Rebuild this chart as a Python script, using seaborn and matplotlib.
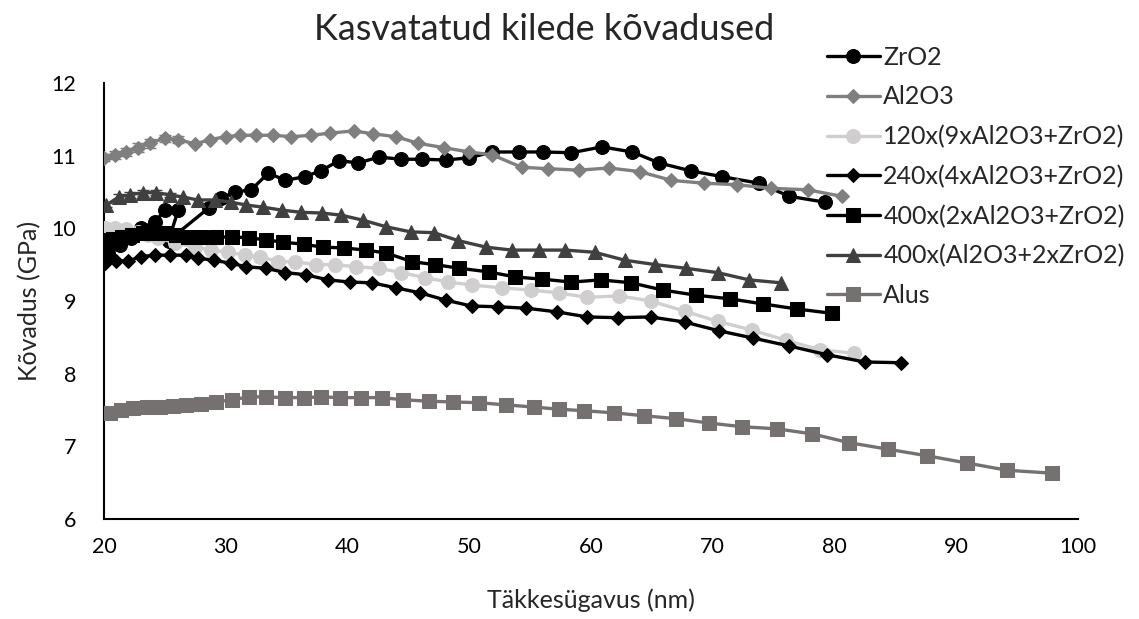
import numpy as np
import pandas as pd
import matplotlib
matplotlib.use("Agg")
import matplotlib.pyplot as plt
import seaborn as sns

# ---- data ----
zro2_x = [20.3, 21.3, 22.2, 23.0, 24.2, 25.0, 26.1, 25.3, 28.6, 29.6, 30.8, 32.1, 33.5, 34.9, 36.5, 37.8, 39.3, 40.9,
          42.6, 44.4, 46.1, 48.1, 50.0, 51.9, 54.1, 56.1, 58.4, 60.9, 63.4, 65.6, 68.2, 70.8, 73.8, 76.3, 79.2]
zro2_y = [9.66, 9.77, 9.87, 10.00, 10.09, 10.25, 10.25, 9.83, 10.28, 10.42, 10.50, 10.53, 10.76, 10.66, 10.71, 10.79,
          10.93, 10.90, 10.98, 10.95, 10.95, 10.94, 10.97, 11.05, 11.05, 11.05, 11.04, 11.12, 11.05, 10.90, 10.79,
          10.71, 10.62, 10.44, 10.36]

al2o3_x = [20.0, 20.9, 21.8, 22.8, 23.8, 25.0, 26.1, 27.5, 28.7, 30.0, 31.2, 32.5, 33.9, 35.4, 37.0, 38.6, 40.5, 42.1,
           44.0, 45.8, 47.9, 50.0, 51.9, 54.3, 56.5, 59.0, 61.5, 64.0, 66.6, 69.3, 72.0, 74.8, 77.8, 80.6]
al2o3_y = [10.97, 11.01, 11.05, 11.11, 11.17, 11.24, 11.22, 11.16, 11.22, 11.26, 11.28, 11.28, 11.28, 11.26, 11.28,
           11.31, 11.34, 11.30, 11.26, 11.17, 11.11, 11.05, 11.01, 10.84, 10.82, 10.80, 10.83, 10.78, 10.66, 10.62,
           10.60, 10.55, 10.53, 10.44]
al2o3_err = [0.05, 0.05, 0.06, 0.06, 0.06, 0.05, 0.05]

s120_x = [20.1, 20.9, 21.8, 22.8, 23.6, 24.4, 25.8, 27.5, 28.8, 30.2, 31.6, 32.8, 34.3, 35.7, 37.4, 39.0, 40.7, 42.6,
          44.4, 46.4, 48.3, 50.2, 52.7, 55.1, 57.4, 59.7, 62.3, 64.9, 67.7, 70.4, 73.2, 76.0, 78.8, 81.6]
s120_y = [10.00, 10.00, 9.99, 9.95, 9.91, 9.87, 9.80, 9.74, 9.70, 9.67, 9.63, 9.61, 9.54, 9.54, 9.50, 9.50, 9.47, 9.45,
          9.39, 9.32, 9.26, 9.22, 9.18, 9.15, 9.11, 9.05, 9.07, 9.00, 8.86, 8.72, 8.60, 8.46, 8.33, 8.28]

s240_x = [20.1, 21.0, 22.0, 23.0, 24.2, 25.4, 26.7, 27.7, 29.0, 30.4, 31.7, 33.3, 34.9, 36.6, 38.4, 40.2, 42.0, 44.0,
          46.0, 48.1, 50.2, 52.4, 54.7, 57.2, 59.7, 62.2, 64.9, 67.7, 70.5, 73.3, 76.3, 79.4, 82.5, 85.5]
s240_y = [9.52, 9.55, 9.55, 9.61, 9.63, 9.63, 9.63, 9.59, 9.56, 9.52, 9.47, 9.45, 9.39, 9.36, 9.29, 9.26, 9.25, 9.18,
          9.11, 9.01, 8.93, 8.92, 8.90, 8.85, 8.78, 8.77, 8.78, 8.71, 8.59, 8.49, 8.38, 8.26, 8.16, 8.15]

s400a_x = [20.1, 20.7, 21.5, 22.3, 23.2, 24.1, 25.0, 25.9, 26.9, 28.0, 29.2, 30.5, 31.9, 33.3, 34.7, 36.4, 38.0, 39.7,
           41.5, 43.2, 45.3, 47.2, 49.2, 51.6, 53.8, 56.0, 58.4, 60.8, 63.3, 65.9, 68.6, 71.4, 74.1, 76.9, 79.8]
s400a_y = [9.84, 9.85, 9.88, 9.91, 9.94, 9.94, 9.94, 9.91, 9.88, 9.88, 9.88, 9.88, 9.87, 9.84, 9.81, 9.78, 9.74, 9.73,
           9.70, 9.66, 9.54, 9.50, 9.45, 9.40, 9.33, 9.30, 9.26, 9.29, 9.25, 9.15, 9.08, 9.03, 8.96, 8.89, 8.83]

s400b_x = [20.2, 21.2, 22.1, 23.2, 24.3, 25.4, 26.5, 27.7, 29.1, 30.4, 31.7, 33.1, 34.6, 36.2, 37.9, 39.5, 41.3, 43.2,
           45.2, 47.1, 49.1, 51.4, 53.5, 55.7, 57.9, 60.3, 62.8, 65.3, 67.8, 70.4, 73.0, 75.6]
s400b_y = [10.32, 10.43, 10.46, 10.49, 10.49, 10.46, 10.43, 10.39, 10.39, 10.36, 10.32, 10.29, 10.25, 10.22, 10.21,
           10.18, 10.11, 10.02, 9.95, 9.94, 9.83, 9.74, 9.70, 9.70, 9.70, 9.67, 9.56, 9.50, 9.45, 9.39, 9.29, 9.25]
s400b_err = [0.03, 0.04, 0.04, 0.04, 0.03, 0.03]

alus_x = [20.5, 21.4, 22.4, 23.5, 24.6, 25.7, 26.7, 28.0, 29.2, 30.5, 31.9, 33.3, 34.9, 36.4, 37.8, 39.4, 41.1, 42.8,
          44.6, 46.7, 48.7, 50.8, 53.0, 55.3, 57.4, 59.4, 61.9, 64.4, 67.0, 69.7, 72.4, 75.3, 78.2, 81.2, 84.4, 87.6,
          90.9, 94.2, 97.9]
alus_y = [7.46, 7.50, 7.53, 7.54, 7.54, 7.55, 7.57, 7.58, 7.61, 7.64, 7.68, 7.68, 7.67, 7.67, 7.68, 7.67, 7.67, 7.67,
          7.64, 7.62, 7.61, 7.60, 7.57, 7.54, 7.51, 7.49, 7.46, 7.42, 7.38, 7.32, 7.27, 7.24, 7.17, 7.05, 6.96, 6.87,
          6.77, 6.67, 6.63]

series_names = ["ZrO2", "Al2O3", "120x(9xAl2O3+ZrO2)", "240x(4xAl2O3+ZrO2)",
                "400x(2xAl2O3+ZrO2)", "400x(Al2O3+2xZrO2)", "Alus"]
title = "Kasvatatud kilede kõvadused"
xlabel = "Täkkesügavus (nm)"
ylabel = "Kõvadus (GPa)"
x_ticks = [20, 30, 40, 50, 60, 70, 80, 90, 100]
y_ticks = [6, 7, 8, 9, 10, 11, 12]

# ---- styling ----
sns.set_theme(style="white")
plt.rcParams['font.family'] = ['Lato', 'DejaVu Sans']

data = [(zro2_x, zro2_y), (al2o3_x, al2o3_y), (s120_x, s120_y), (s240_x, s240_y),
        (s400a_x, s400a_y), (s400b_x, s400b_y), (alus_x, alus_y)]
colors = ["#000000", "#7F7F7F", "#D0CECE", "#000000", "#000000", "#404040", "#767171"]
markers = ["o", "D", "o", "D", "s", "^", "s"]
msizes = [10, 7.5, 10, 7.5, 10, 9.5, 10]

fig = plt.figure(figsize=(11.39, 6.19), dpi=100)
ax = fig.add_axes([0.0913, 0.1616, 0.855, 0.7044])

for i, (name, (xs, ys)) in enumerate(zip(series_names, data)):
    df = pd.DataFrame({"x": xs, "y": ys})
    sns.lineplot(data=df, x="x", y="y", sort=False, estimator=None, ax=ax,
                 color=colors[i], marker=markers[i], markersize=msizes[i],
                 markeredgecolor=colors[i], linewidth=2.4, label=name, zorder=2 + i)

ax.errorbar(al2o3_x[:len(al2o3_err)], al2o3_y[:len(al2o3_err)], yerr=al2o3_err, fmt="none",
            ecolor=colors[1], elinewidth=1.2, capsize=4, zorder=3)
ax.errorbar(s400b_x[:len(s400b_err)], s400b_y[:len(s400b_err)], yerr=s400b_err, fmt="none",
            ecolor=colors[5], elinewidth=1.2, capsize=4, zorder=7)

ax.set_xlim(20, 100)
ax.set_ylim(6, 12)
ax.set_xticks(x_ticks)
ax.set_yticks(y_ticks)
ax.tick_params(axis="both", labelsize=15.5, colors="black", length=5, width=1.5, direction="in")
ax.tick_params(axis="y", pad=20)
ax.tick_params(axis="x", pad=13)
for s in ["top", "right"]:
    ax.spines[s].set_visible(False)
for s in ["left", "bottom"]:
    ax.spines[s].set_color("black")
    ax.spines[s].set_linewidth(1.5)
ax.set_xlabel(xlabel, fontsize=18)
ax.set_ylabel(ylabel, fontsize=18)
ax.xaxis.set_label_coords(0.5, -0.186)
ax.xaxis.label.set_verticalalignment("center")
ax.yaxis.set_label_coords(-0.076, 0.5)
ax.yaxis.label.set_verticalalignment("center")
ax.grid(False)

fig.text(0.478, 0.953, title, fontsize=26, ha="center", va="center")

leg = ax.legend(loc="upper left", bbox_to_anchor=(827 / 1139, 1 - 46 / 619), bbox_transform=fig.transFigure,
                frameon=False, fontsize=18, handlelength=2.1, handletextpad=0.15, labelspacing=0.66,
                borderaxespad=0, borderpad=0)

fig.savefig("out.png", dpi=100)
